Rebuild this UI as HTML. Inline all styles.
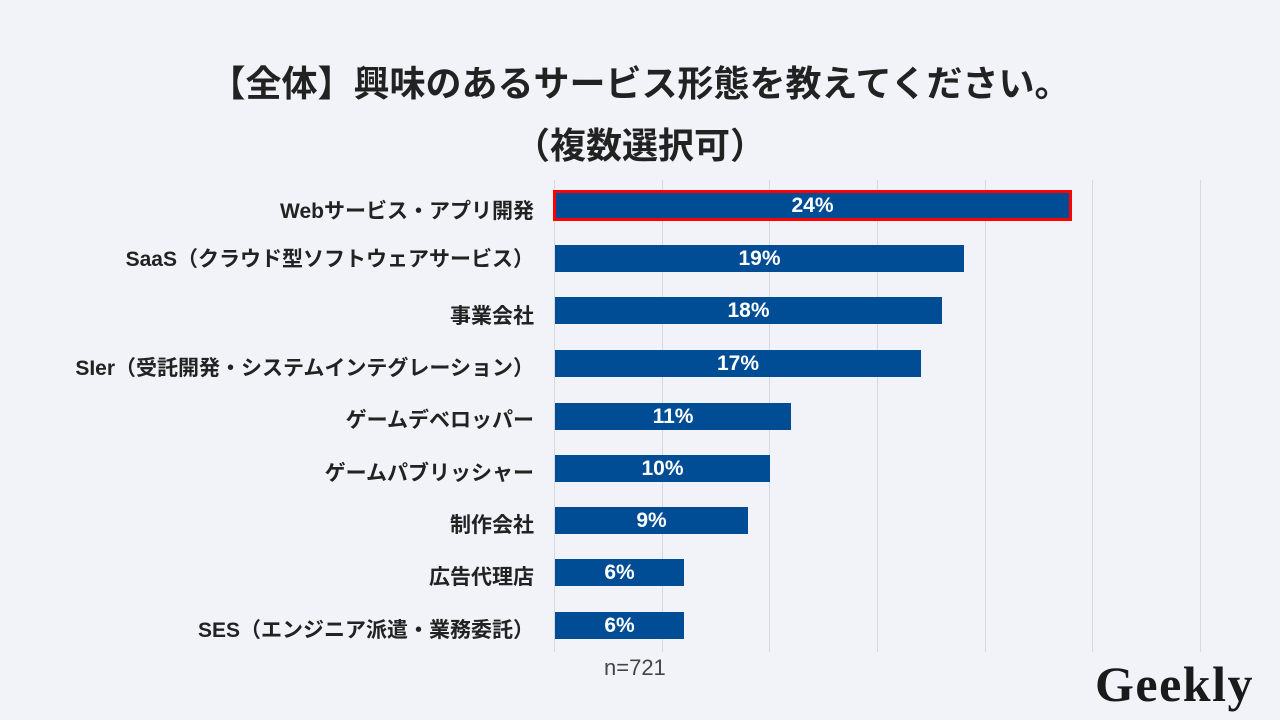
<!DOCTYPE html>
<html><head><meta charset="utf-8"><style>
body{margin:0;width:1280px;height:720px;background:#f2f3f8;overflow:hidden;font-family:"Liberation Sans","Noto Sans CJK JP",sans-serif;position:relative}
.t{position:absolute;left:0;width:1280px;text-align:center;font-weight:bold;color:#222;font-size:36px}
.g{position:absolute;top:180px;height:472px;width:1px;background:#d8d9de}
.b{position:absolute;left:555px;height:27px;background:#004d96;color:#fff;font-weight:bold;font-size:21px;text-align:center;line-height:27px}
.l{position:absolute;right:746px;font-weight:bold;font-size:21px;color:#222;white-space:nowrap;line-height:27px}
</style></head><body>
<div class="t" style="top:55px">【全体】興味のあるサービス形態を教えてください。</div>
<div class="t" style="top:117px">（複数選択可）</div>
<div class="g" style="left:554px"></div><div class="g" style="left:662px"></div><div class="g" style="left:769px"></div><div class="g" style="left:877px"></div><div class="g" style="left:985px"></div><div class="g" style="left:1092px"></div><div class="g" style="left:1200px"></div>
<div class="b" style="top:190px;width:513px;border:3px solid #f00;left:553px;height:25px;line-height:25px">24%</div>
<div class="l" style="top:198px">Webサービス・アプリ開発</div>
<div class="b" style="top:245px;width:409px">19%</div><div class="l" style="top:246px">SaaS（クラウド型ソフトウェアサービス）</div>
<div class="b" style="top:297px;width:387px">18%</div><div class="l" style="top:303px">事業会社</div>
<div class="b" style="top:350px;width:366px">17%</div><div class="l" style="top:355px">SIer（受託開発・システムインテグレーション）</div>
<div class="b" style="top:403px;width:236px">11%</div><div class="l" style="top:407px">ゲームデベロッパー</div>
<div class="b" style="top:455px;width:215px">10%</div><div class="l" style="top:460px">ゲームパブリッシャー</div>
<div class="b" style="top:507px;width:193px">9%</div><div class="l" style="top:512px">制作会社</div>
<div class="b" style="top:559px;width:129px">6%</div><div class="l" style="top:564px">広告代理店</div>
<div class="b" style="top:612px;width:129px">6%</div><div class="l" style="top:617px">SES（エンジニア派遣・業務委託）</div>
<div style="position:absolute;left:604px;top:655px;font-size:22px;color:#444">n=721</div>
<div style="position:absolute;left:1095px;top:655px;font-family:'Liberation Serif',serif;font-weight:bold;font-size:50px;color:#1a1a1a;letter-spacing:1.5px">Geekly</div>
</body></html>
